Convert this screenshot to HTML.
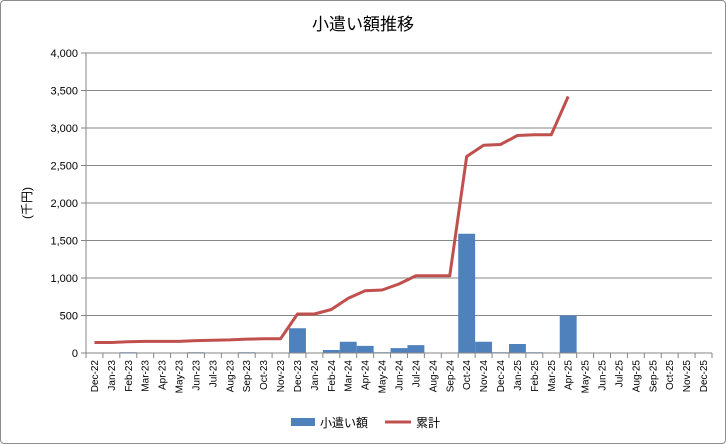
<!DOCTYPE html>
<html><head><meta charset="utf-8"><style>
body{margin:0;background:#fff;font-family:"Liberation Sans","Noto Sans CJK JP",sans-serif}
#wrap{width:724px;height:442px;border:1px solid #8c8c8c;border-radius:4px;position:relative;overflow:hidden}
</style></head><body>
<div id="wrap">
<svg id="c" width="724" height="442"></svg>
</div>
<script>
const categories=["Dec-22","Jan-23","Feb-23","Mar-23","Apr-23","May-23","Jun-23","Jul-23","Aug-23","Sep-23","Oct-23","Nov-23","Dec-23","Jan-24","Feb-24","Mar-24","Apr-24","May-24","Jun-24","Jul-24","Aug-24","Sep-24","Oct-24","Nov-24","Dec-24","Jan-25","Feb-25","Mar-25","Apr-25","May-25","Jun-25","Jul-25","Aug-25","Sep-25","Oct-25","Nov-25","Dec-25"];
const barValues=[0,0,10,5,0,0,10,5,5,10,5,5,330,0,40,150,95,10,65,105,0,0,1590,150,10,120,10,0,500,null,null,null,null,null,null,null,null];
const lineValues=[140,140,150,155,155,155,165,170,175,185,190,190,520,520,580,730,830,840,920,1030,1030,1030,2620,2770,2780,2900,2910,2910,3420,null,null,null,null,null,null,null,null];
const yTicks=[0,500,1000,1500,2000,2500,3000,3500,4000];
const yTickLabels=["0","500","1,000","1,500","2,000","2,500","3,000","3,500","4,000"];
const svg=document.getElementById('c');const NS='http://www.w3.org/2000/svg';
const L=85,R=711,T=52,B=352,yMax=4000;
const bw=(R-L)/categories.length;
const y=v=>B-(v/yMax)*(B-T);
const xc=i=>L+bw*(i+0.5);
function mk(t,a,p){const e=document.createElementNS(NS,t);for(const k in a)e.setAttribute(k,a[k]);(p||svg).appendChild(e);return e;}
let t=mk('text',{x:362,y:29,'text-anchor':'middle','font-size':17,fill:'#000'});t.textContent='小遣い額推移';

yTicks.forEach((v,i)=>{
 let g=mk('line',{x1:L,x2:R,y1:y(v),y2:y(v),stroke:'#868686','stroke-width':1});
 
 mk('line',{x1:L-5,x2:L,y1:y(v),y2:y(v),stroke:'#868686'});
 let tx=mk('text',{x:L-8,y:y(v)+4,'text-anchor':'end','font-size':11,fill:'#000'});tx.textContent=yTickLabels[i];
 
});
mk('line',{x1:L,x2:L,y1:T,y2:B,stroke:'#868686'});
let yt=mk('text',{x:0,y:0,'text-anchor':'middle','font-size':12,transform:'translate(30,202) rotate(-90)'});yt.textContent='(千円)';

categories.forEach((c,i)=>{
 const v=barValues[i];
 if(v){let r=mk('rect',{x:L+bw*i+bw*0.0,y:y(v),width:bw,height:B-y(v),fill:'#4f81bd'});
 }
});
mk('line',{x1:L,x2:R,y1:B,y2:B,stroke:'#868686'});
categories.forEach((c,i)=>{
 mk('line',{x1:L+bw*i,x2:L+bw*i,y1:B,y2:B+5,stroke:'#868686'});
 let tx=mk('text',{x:0,y:0,'text-anchor':'end','font-size':10,transform:`translate(${xc(i)+3.5},${B+7}) rotate(-90)`});tx.textContent=c;
 
});
mk('line',{x1:R,x2:R,y1:B,y2:B+5,stroke:'#868686'});
let pts=[];lineValues.forEach((v,i)=>{if(v!=null)pts.push(xc(i)+','+y(v));});
let pl=mk('polyline',{points:pts.join(' '),fill:'none',stroke:'#c0504d','stroke-width':3,'stroke-linejoin':'round'});

let lg=mk('g',{});
mk('rect',{x:290,y:417,width:24,height:8,fill:'#4f81bd'},lg);
let l1=mk('text',{x:319,y:426,'font-size':12},lg);l1.textContent='小遣い額';
mk('line',{x1:384,x2:410,y1:421,y2:421,stroke:'#c0504d','stroke-width':3},lg);
let l2=mk('text',{x:415,y:426,'font-size':12},lg);l2.textContent='累計';
</script>
</body></html>
